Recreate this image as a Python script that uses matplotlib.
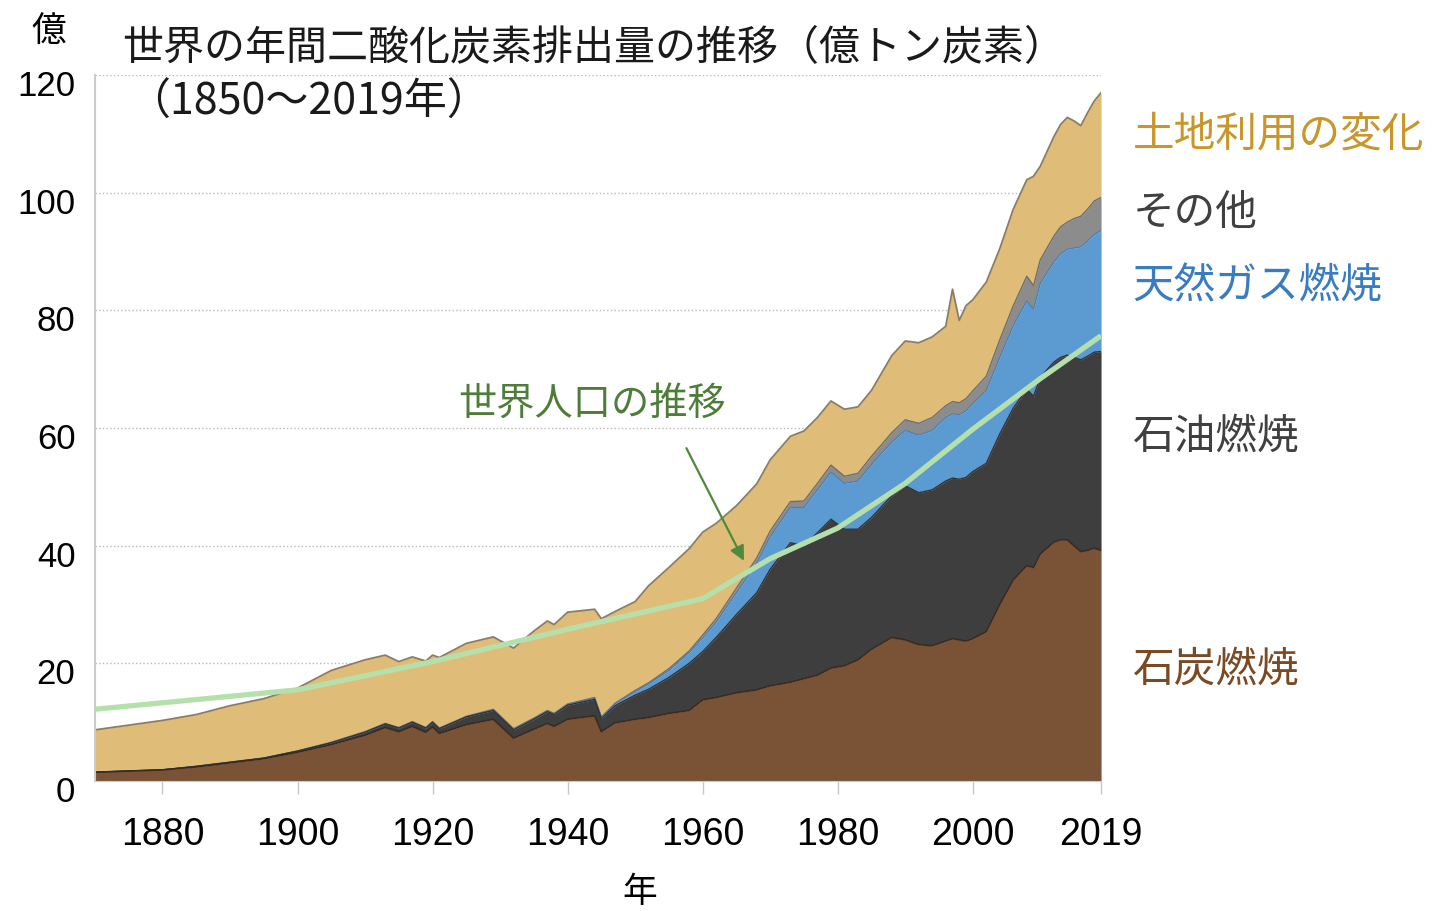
import matplotlib
matplotlib.use("Agg")
import matplotlib.pyplot as plt
from matplotlib.transforms import ScaledTranslation

plt.rcParams['font.family'] = ['Noto Sans CJK JP', 'DejaVu Sans']

# cumulative tops of each layer (億トン炭素)
years = [1870, 1875, 1880, 1885, 1890, 1895, 1900, 1905, 1910, 1913, 1915, 1917,
         1919, 1920, 1921, 1925, 1929, 1932, 1935, 1937, 1938, 1940, 1944, 1945,
         1947, 1950, 1952, 1955, 1958, 1960, 1962, 1965, 1968, 1970, 1973, 1975,
         1977, 1979, 1981, 1983, 1985, 1988, 1990, 1992, 1994, 1996, 1997, 1998,
         1999, 2000, 2002, 2004, 2006, 2008, 2009, 2010, 2012, 2013, 2014, 2015,
         2016, 2017, 2018, 2019]
coal_top = [1.5, 1.7, 1.9, 2.4, 3.1, 3.8, 4.9, 6.2, 7.8, 9.1, 8.4, 9.3,
            8.3, 9.2, 8.1, 9.6, 10.5, 7.3, 8.8, 9.8, 9.3, 10.5, 11.1, 8.4,
            9.9, 10.5, 10.8, 11.5, 12.0, 13.8, 14.2, 15.0, 15.5, 16.2, 16.8, 17.4,
            18.0, 19.2, 19.6, 20.6, 22.4, 24.4, 24.0, 23.2, 23.0, 23.8, 24.2, 24.0,
            23.8, 24.2, 25.4, 30.0, 34.2, 36.6, 36.3, 38.6, 40.6, 41.0, 41.0, 40.0,
            39.0, 39.2, 39.6, 39.2]
oil_top = [1.5, 1.7, 1.9, 2.5, 3.2, 3.9, 5.1, 6.5, 8.3, 9.7, 9.0, 10.0,
           9.0, 10.0, 8.9, 10.9, 12.0, 8.7, 10.5, 11.8, 11.3, 12.9, 13.9, 10.6,
           12.8, 14.6, 15.6, 17.6, 20.0, 22.0, 24.4, 28.3, 32.0, 36.0, 40.5, 40.0,
           42.2, 44.5, 42.8, 42.8, 44.8, 48.5, 50.2, 49.0, 49.5, 51.0, 51.5, 51.3,
           51.6, 52.6, 54.0, 59.0, 63.4, 66.6, 65.4, 68.6, 71.2, 72.0, 72.4, 72.0,
           71.6, 72.2, 72.9, 73.0]
gas_top = [1.5, 1.7, 1.9, 2.5, 3.2, 3.9, 5.1, 6.5, 8.3, 9.7, 9.0, 10.0,
           9.0, 10.0, 8.9, 10.9, 12.1, 8.8, 10.6, 11.9, 11.4, 13.0, 14.1, 10.8,
           13.1, 15.2, 16.5, 18.8, 21.8, 24.3, 27.0, 32.0, 37.0, 41.5, 46.5, 46.5,
           49.5, 52.5, 50.6, 51.0, 53.8, 57.6, 59.6, 58.8, 59.6, 61.8, 62.4, 62.3,
           62.9, 64.2, 66.4, 72.0, 77.4, 81.6, 80.2, 84.6, 88.2, 89.6, 90.4, 90.6,
           90.8, 91.8, 92.9, 93.6]
other_top = [1.5, 1.7, 1.9, 2.5, 3.2, 3.9, 5.1, 6.6, 8.4, 9.8, 9.1, 10.1,
             9.1, 10.1, 9.0, 11.0, 12.2, 8.9, 10.7, 12.0, 11.5, 13.1, 14.2, 10.9,
             13.2, 15.4, 16.7, 19.1, 22.1, 24.8, 27.6, 32.8, 37.9, 42.5, 47.5, 47.6,
             50.6, 53.7, 51.8, 52.3, 55.2, 59.2, 61.4, 60.8, 61.8, 63.8, 64.5, 64.3,
             65.0, 66.3, 68.8, 75.0, 80.8, 85.8, 84.2, 88.6, 92.6, 94.2, 95.0, 95.6,
             96.0, 97.2, 98.6, 99.2]
total = [8.7, 9.5, 10.3, 11.3, 12.8, 14.0, 15.8, 18.8, 20.6, 21.4, 20.3, 21.1,
         20.4, 21.4, 21.0, 23.4, 24.5, 22.6, 25.5, 27.2, 26.6, 28.7, 29.2, 27.6,
         28.8, 30.5, 33.2, 36.3, 39.5, 42.3, 43.8, 46.8, 50.5, 54.6, 58.6, 59.5,
         61.8, 64.6, 63.2, 63.6, 66.4, 72.3, 74.8, 74.5, 75.5, 77.3, 83.6, 78.3,
         80.8, 81.8, 84.8, 90.5, 97.2, 102.2, 102.8, 104.5, 109.5, 111.6, 112.8, 112.2,
         111.4, 113.6, 115.6, 117.0]

pop_years = [1870, 1900, 1920, 1940, 1960, 1970, 1980, 1990, 2000, 2010, 2019]
pop_line = [12.2, 15.5, 20.3, 25.8, 31.0, 37.8, 43.0, 50.6, 59.8, 68.4, 75.7]

xticks = [1880, 1900, 1920, 1940, 1960, 1980, 2000, 2019]
yticks = [0, 20, 40, 60, 80, 100, 120]

c_land = '#dfbd78'
c_other = '#8c8c8c'
c_gas = '#5b9bd2'
c_oil = '#3e3e3e'
c_coal = '#7a5236'

fig = plt.figure(figsize=(14.32, 9.12), dpi=100)
ax = fig.add_axes([0.0663, 0.1425, 0.7026, 0.7741])

ax.fill_between(years, other_top, total, color=c_land, linewidth=0)
ax.fill_between(years, gas_top, other_top, color=c_other, linewidth=0)
ax.fill_between(years, oil_top, gas_top, color=c_gas, linewidth=0)
ax.fill_between(years, coal_top, oil_top, color=c_oil, linewidth=0)
ax.fill_between(years, 0, coal_top, color=c_coal, linewidth=0)
ax.plot(years, total, color='#8a7d66', lw=1.3)
ax.plot(years, other_top, color='#6e6e6e', lw=1.0)
ax.plot(years, gas_top, color='#4a7fb0', lw=0.8)
ax.plot(years, oil_top, color='#333333', lw=1.0)
ax.plot(years, coal_top, color='#3a2a20', lw=1.2)

ax.plot(pop_years, pop_line, color='#b6e0ab', lw=3.8, solid_capstyle='butt')

ax.set_xlim(1870, 2019)
ax.set_ylim(0, 120)
ax.set_yticks(yticks)
ax.set_xticks(xticks)
ax.set_yticklabels([str(v) for v in yticks], family='Liberation Sans', fontsize=25)
ax.set_xticklabels([str(v) for v in xticks], family='Liberation Sans', fontsize=27)
ax.tick_params(axis='y', length=0, pad=14)
ax.tick_params(axis='x', length=9, width=1, color='#c8c8c8', pad=16)
shift = ScaledTranslation(0, -5 / 72, fig.dpi_scale_trans)
for lab in ax.get_yticklabels():
    lab.set_transform(lab.get_transform() + shift)
ax.grid(axis='y', linestyle=':', color='#b8b8b8', linewidth=1)
ax.set_axisbelow(True)
for s in ['top', 'right']:
    ax.spines[s].set_visible(False)
ax.spines['left'].set_color('#cccccc')
ax.spines['left'].set_linewidth(1.5)
ax.spines['bottom'].set_color('#cccccc')

fig.text(0.447, 0.021, '年', fontsize=25, ha='center', va='center')

fig.text(0.034, 0.965, '億', fontsize=25, ha='center', va='center')
fig.text(0.085, 0.947, '世界の年間二酸化炭素排出量の推移（億トン炭素）', fontsize=29.5,
         ha='left', va='center', color='#1a1a1a')
fig.text(0.089, 0.887, '（1850～2019年）', fontsize=31, ha='left', va='center',
         color='#1a1a1a')

ax.annotate('', xy=(1966.3, 37.0), xytext=(1957.4, 57.0),
            arrowprops=dict(arrowstyle='-|>', color='#4f8a3c', lw=1.6,
                            mutation_scale=22))
ax.text(1943.6, 64.2, '世界人口の推移', fontsize=27.5, color='#4e7d3a',
        ha='center', va='center')

labels = ['土地利用の変化', 'その他', '天然ガス燃焼', '石油燃焼', '石炭燃焼']
label_colors = ['#c8962a', '#404040', '#3a7cc0', '#404040', '#7a4a25']
label_y = [0.852, 0.766, 0.685, 0.521, 0.265]
for t, c, yy in zip(labels, label_colors, label_y):
    fig.text(0.791, yy, t, fontsize=30, color=c, ha='left', va='center')

fig.savefig('out.png', dpi=100)
